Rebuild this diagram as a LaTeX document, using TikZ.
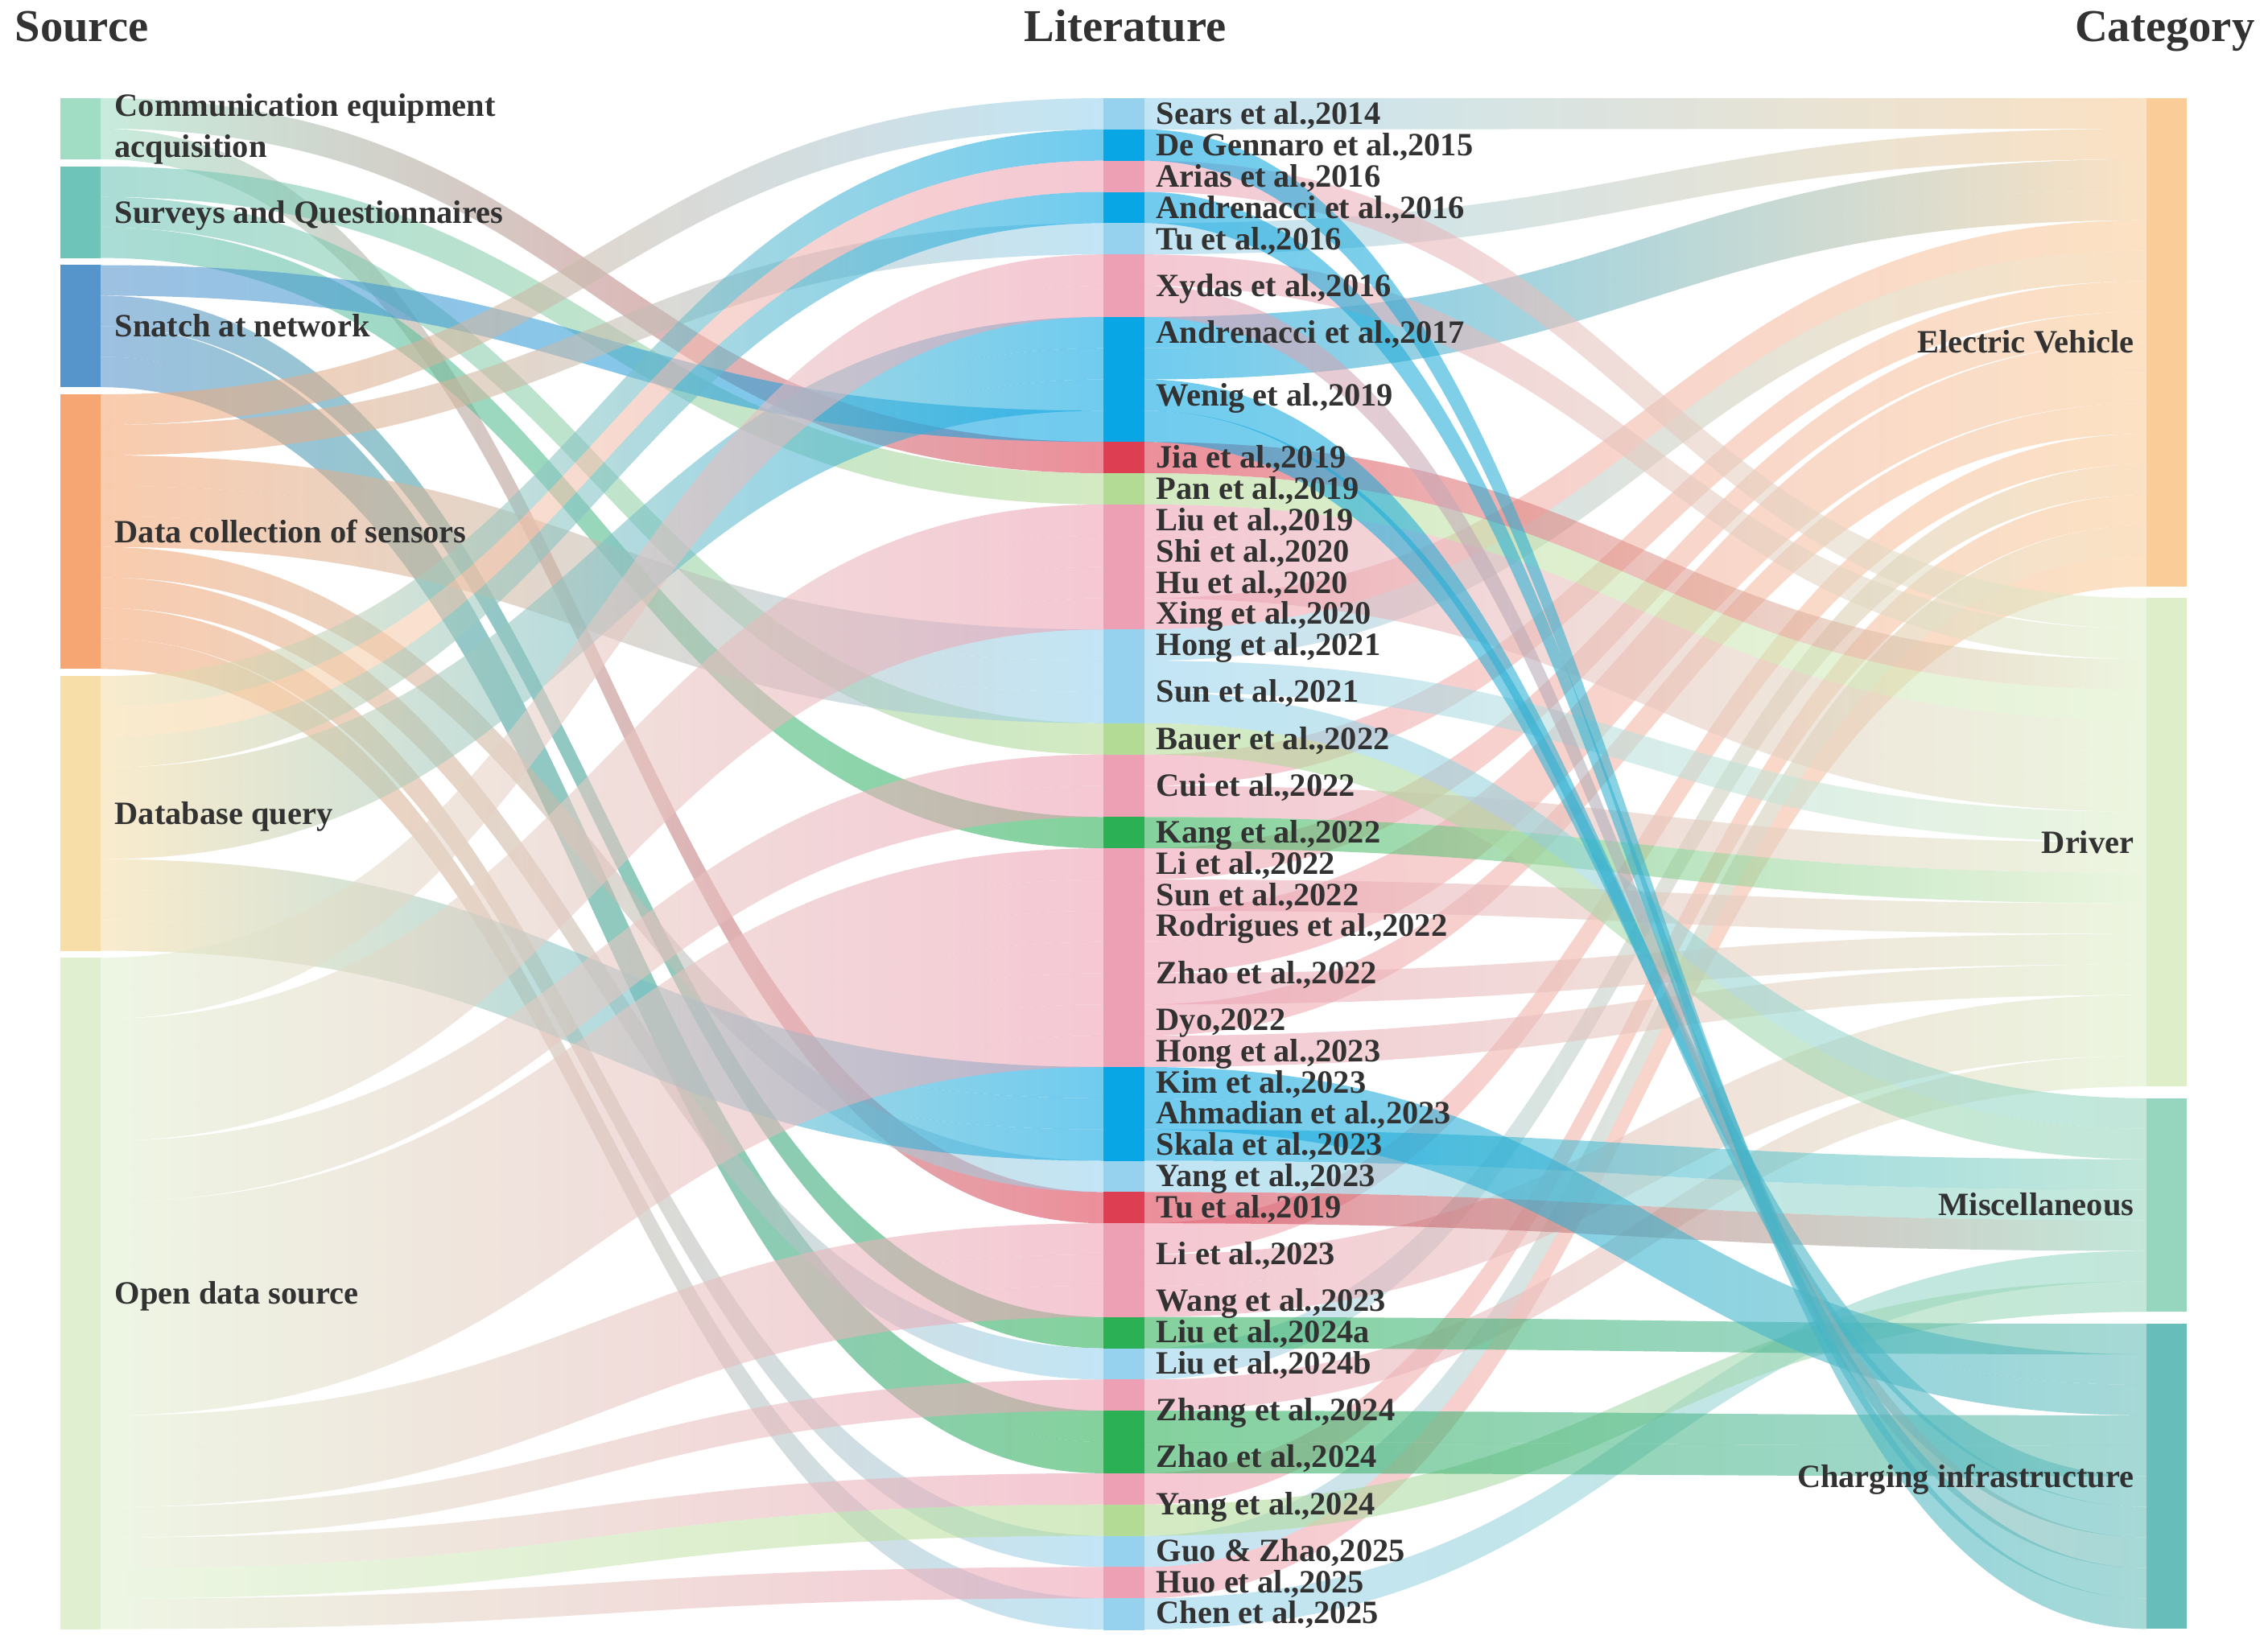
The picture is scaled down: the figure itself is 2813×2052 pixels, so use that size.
\documentclass[tikz,border=0pt]{standalone}
\usepackage{fontspec}
\setmainfont{Liberation Serif}
\usepackage{xcolor}
\usepackage{tikz}
\usetikzlibrary{backgrounds}
\usetikzlibrary{positioning}

\definecolor{cComm}{RGB}{160,221,196}
\definecolor{cSurv}{RGB}{110,196,184}
\definecolor{cSnatch}{RGB}{86,148,204}
\definecolor{cSensor}{RGB}{246,166,114}
\definecolor{cDbq}{RGB}{247,221,168}
\definecolor{cOpen}{RGB}{224,239,207}
\definecolor{cEV}{RGB}{249,204,152}
\definecolor{cDriver}{RGB}{222,238,200}
\definecolor{cMisc}{RGB}{150,214,190}
\definecolor{cCI}{RGB}{102,189,185}
\definecolor{segB}{RGB}{8,166,228}
\definecolor{segLB}{RGB}{150,210,238}
\definecolor{segP}{RGB}{237,160,180}
\definecolor{segR}{RGB}{222,62,82}
\definecolor{segG}{RGB}{44,176,86}
\definecolor{segLG}{RGB}{180,219,150}
\definecolor{labelgrey}{RGB}{50,50,50}

\tikzset{
  nodebar/.style={draw=none,inner sep=0pt,outer sep=0pt,minimum width=0.5cm,anchor=north west},
  bandfill/.style={fill opacity=0.58},
  lbl/.style={text=labelgrey,font=\fontsize{11.5}{14.5}\selectfont\bfseries,inner sep=0pt,text height=7.6pt,text depth=0pt},
  lblml/.style={text=labelgrey,font=\fontsize{11.5}{14.5}\selectfont\bfseries,inner sep=0pt,align=left},
  headlbl/.style={text=labelgrey,font=\fontsize{16.1}{19}\selectfont\bfseries,inner sep=0pt,text height=10.6pt,text depth=0pt}
}

\def\uL{0.379cm}
\def\uM{0.38816cm}

% one band: from anchor, slot, unit, to anchor, slot, unit, colours
\newcommand\band[8]{%
  \shade[bandfill,left color=#7,right color=#8]
    ([yshift=-#2*#3]#1) .. controls +(623,0) and +(-623,0) .. ([yshift=-#5*#6]#4)
    -- ([yshift=-#5*#6-#6]#4) .. controls +(-623,0) and +(623,0) .. ([yshift=-#2*#3-#3]#1) -- cycle;}
\newcommand\srcflows[3]{\foreach \slot/\col [count=\pos from 0] in {#3}
  {\band{#1.north east}{\pos}{\uL}{lit.north west}{\slot}{\uM}{#2}{seg\col}}}
\newcommand\catflows[3]{\foreach \slot/\col [count=\pos from 0] in {#3}
  {\band{lit.north east}{\slot}{\uM}{#1.north west}{\pos}{\uL}{seg\col}{#2}}}

\begin{document}
\begin{tikzpicture}[x=0.01cm,y=-0.01cm]
\useasboundingbox (0,0) rectangle (2813,2052);

% sources
\node[nodebar,fill=cComm,minimum height=2*\uL] (comm) at (75,122) {};
\node[nodebar,fill=cSurv,minimum height=3*\uL] (surv) at (75,206.8) {};
\node[nodebar,fill=cSnatch,minimum height=4*\uL] (snatch) at (75,329.5) {};
\node[nodebar,fill=cSensor,minimum height=9*\uL] (sensor) at (75,490.1) {};
\node[nodebar,fill=cDbq,minimum height=9*\uL] (dbq) at (75,840.2) {};
\node[nodebar,fill=cOpen,minimum height=22*\uL] (open) at (75,1190.3) {};

% categories
\node[nodebar,fill=cEV,minimum height=16*\uL] (ev) at (2667,122) {};
\node[nodebar,fill=cDriver,minimum height=16*\uL] (driver) at (2667,743.4) {};
\node[nodebar,fill=cMisc,minimum height=7*\uL] (misc) at (2667,1364.8) {};
\node[nodebar,fill=cCI,minimum height=10*\uL] (ci) at (2667,1645.1) {};

% literature column
\node[nodebar,minimum width=0.51cm,minimum height=49*\uM] (lit) at (1371,122) {};
\foreach \col [count=\slot from 0] in {LB,B,P,B,LB,P,P,B,B,B,B,R,LG,P,P,P,P,LB,LB,LB,LG,P,P,G,P,P,P,P,P,P,P,B,B,B,LB,R,P,P,P,G,LB,P,G,G,P,LG,LB,P,LB}
  \fill[seg\col] ([yshift=-\slot*\uM]lit.north west) rectangle ([yshift=-\slot*\uM-\uM-0.4pt]lit.north east);

\begin{pgfonlayer}{background}
\srcflows{comm}{cComm}{11/R,35/R}
\srcflows{surv}{cSurv}{12/LG,20/LG,23/G}
\srcflows{snatch}{cSnatch}{10/B,39/G,42/G,43/G}
\srcflows{sensor}{cSensor}{0/LB,4/LB,17/LB,18/LB,19/LB,34/LB,40/LB,46/LB,48/LB}
\srcflows{dbq}{cDbq}{1/B,2/P,3/B,7/B,8/B,9/B,31/B,32/B,33/B}
\srcflows{open}{cOpen}{5/P,6/P,13/P,14/P,15/P,16/P,21/P,22/P,24/P,25/P,26/P,27/P,28/P,29/P,30/P,36/P,37/P,38/P,41/P,44/P,45/LG,47/P}
\catflows{ev}{cEV}{0/LB,4/LB,7/B,8/B,16/P,17/LB,21/P,24/P,26/P,27/P,29/P,36/P,40/LB,44/P,46/LB,47/P}
\catflows{driver}{cDriver}{2/P,5/P,11/R,12/LG,13/P,14/P,15/P,18/LB,22/P,23/G,25/P,28/P,30/P,37/P,38/P,41/P}
\catflows{misc}{cMisc}{19/LB,20/LG,33/B,34/LB,35/R,48/LB,45/LG}
\catflows{ci}{cCI}{39/G,31/B,32/B,42/G,43/G,10/B,9/B,6/P,3/B,1/B}
\end{pgfonlayer}

% labels
\node[lblml,right=0.17cm of comm] (commlbl) {Communication equipment\\acquisition};
\node[lbl,right=0.17cm of surv] (survlbl) {Surveys and Questionnaires};
\node[lbl,right=0.17cm of snatch] (snatchlbl) {Snatch at network};
\node[lbl,right=0.17cm of sensor] (sensorlbl) {Data collection of sensors};
\node[lbl,right=0.17cm of dbq] (dbqlbl) {Database query};
\node[lbl,right=0.17cm of open] (openlbl) {Open data source};
\node[lbl,left=0.15cm of ev] (evlbl) {Electric Vehicle};
\node[lbl,left=0.15cm of driver] (driverlbl) {Driver};
\node[lbl,left=0.15cm of misc] (misclbl) {Miscellaneous};
\node[lbl,left=0.15cm of ci] (cilbl) {Charging infrastructure};

\foreach \s/\h/\ptitle [count=\n] in {0/1/{Sears et al.,2014},1/1/{De Gennaro et al.,2015},2/1/{Arias et al.,2016},
  3/1/{Andrenacci et al.,2016},4/1/{Tu et al.,2016},5/2/{Xydas et al.,2016},7/1/{Andrenacci et al.,2017},
  8/3/{Wenig et al.,2019},11/1/{Jia et al.,2019},12/1/{Pan et al.,2019},13/1/{Liu et al.,2019},
  14/1/{Shi et al.,2020},15/1/{Hu et al.,2020},16/1/{Xing et al.,2020},17/1/{Hong et al.,2021},
  18/2/{Sun et al.,2021},20/1/{Bauer et al.,2022},21/2/{Cui et al.,2022},23/1/{Kang et al.,2022},
  24/1/{Li et al.,2022},25/1/{Sun et al.,2022},26/1/{Rodrigues et al.,2022},27/2/{Zhao et al.,2022},
  29/1/{Dyo,2022},30/1/{Hong et al.,2023},31/1/{Kim et al.,2023},32/1/{Ahmadian et al.,2023},
  33/1/{Skala et al.,2023},34/1/{Yang et al.,2023},35/1/{Tu et al.,2019},36/2/{Li et al.,2023},
  38/1/{Wang et al.,2023},39/1/{Liu et al.,2024a},40/1/{Liu et al.,2024b},41/2/{Zhang et al.,2024},
  43/1/{Zhao et al.,2024},44/2/{Yang et al.,2024},46/1/{Guo \& Zhao,2025},47/1/{Huo et al.,2025},
  48/1/{Chen et al.,2025}}
  \node[lbl,anchor=west] (paper\n) at (1436,{122+(\s+\h/2)*38.816}) {\ptitle};

\node[headlbl,anchor=west] (srchead) at (18,33) {Source};
\node[headlbl,anchor=west] (lithead) at (1272,33) {Literature};
\node[headlbl,anchor=east] (cathead) at (2802,33) {Category};
\end{tikzpicture}
\end{document}
